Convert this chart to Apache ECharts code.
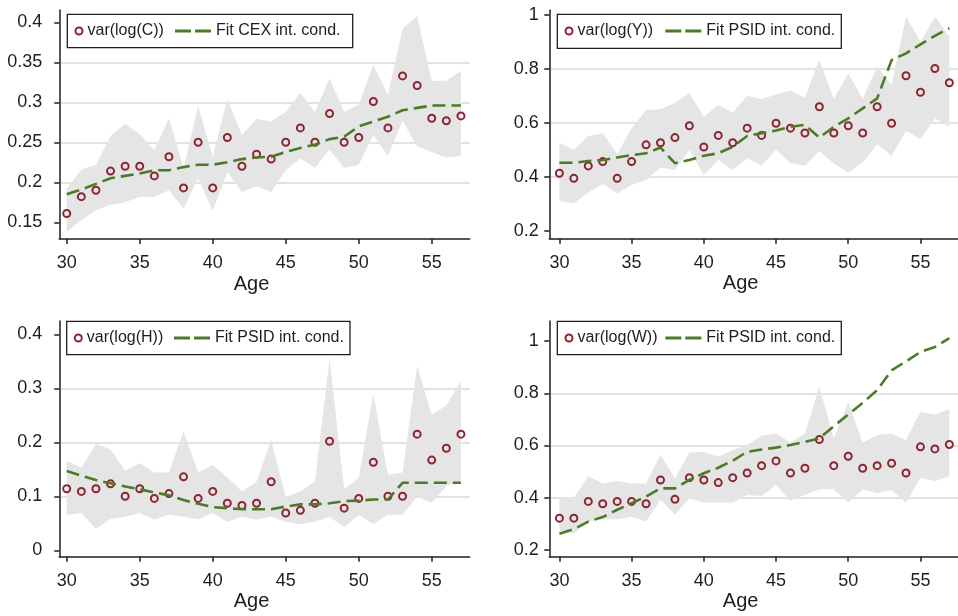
<!DOCTYPE html>
<html>
<head>
<meta charset="utf-8">
<script src="https://cdn.jsdelivr.net/npm/echarts@6/dist/echarts.min.js"></script>
<style>
html, body { margin:0; padding:0; background:#fff; }
#main { width:958px; height:616px; }
</style>
</head>
<body>
<div id="main"></div>
<script>
// 年龄 (横轴)
var ages = [30,31,32,33,34,35,36,37,38,39,40,41,42,43,44,45,46,47,48,49,50,51,52,53,54,55,56,57];
var xTicks = [30,35,40,45,50,55];

// 消费 C
var varC = [0.161,0.182,0.190,0.214,0.220,0.220,0.208,0.232,0.193,0.250,0.193,0.256,0.220,0.235,0.229,0.250,0.268,0.250,0.286,0.250,0.256,0.301,0.268,0.333,0.321,0.280,0.277,0.283];
var fitC = [0.185,0.191,0.198,0.205,0.208,0.211,0.215,0.215,0.219,0.222,0.222,0.225,0.229,0.231,0.232,0.238,0.243,0.247,0.254,0.257,0.270,0.276,0.282,0.290,0.293,0.296,0.296,0.296];
var loC = [0.138,0.153,0.165,0.172,0.175,0.182,0.182,0.190,0.167,0.205,0.164,0.213,0.188,0.195,0.188,0.215,0.230,0.218,0.241,0.218,0.222,0.259,0.233,0.277,0.245,0.238,0.231,0.233];
var hiC = [0.192,0.216,0.222,0.258,0.273,0.260,0.240,0.280,0.218,0.295,0.232,0.304,0.259,0.279,0.276,0.288,0.312,0.288,0.330,0.288,0.297,0.347,0.309,0.392,0.408,0.327,0.327,0.339];
var yTicksC = [0.15,0.2,0.25,0.3,0.35,0.4];

// 收入 Y
var varY = [0.414,0.395,0.441,0.457,0.395,0.457,0.519,0.527,0.546,0.590,0.511,0.554,0.527,0.581,0.554,0.599,0.581,0.563,0.660,0.563,0.590,0.563,0.660,0.599,0.775,0.714,0.802,0.749];
var fitY = [0.453,0.453,0.459,0.463,0.472,0.481,0.488,0.509,0.451,0.463,0.479,0.488,0.512,0.552,0.562,0.572,0.586,0.593,0.546,0.586,0.617,0.654,0.691,0.833,0.858,0.891,0.923,0.951];
var loY = [0.312,0.302,0.343,0.374,0.340,0.370,0.389,0.435,0.426,0.500,0.407,0.463,0.426,0.469,0.442,0.502,0.451,0.442,0.496,0.451,0.416,0.454,0.521,0.479,0.570,0.541,0.617,0.586];
var hiY = [0.527,0.500,0.552,0.562,0.485,0.580,0.648,0.651,0.675,0.710,0.623,0.667,0.638,0.701,0.689,0.706,0.720,0.694,0.833,0.689,0.784,0.689,0.809,0.741,0.994,0.901,0.994,0.920];
var yTicksY = [0.2,0.4,0.6,0.8,1];

// 工时 H
var varH = [0.114,0.109,0.114,0.123,0.100,0.114,0.096,0.105,0.136,0.096,0.109,0.087,0.083,0.087,0.127,0.069,0.074,0.087,0.202,0.078,0.096,0.163,0.100,0.100,0.215,0.167,0.189,0.215];
var fitH = [0.147,0.138,0.130,0.124,0.118,0.113,0.107,0.102,0.093,0.086,0.080,0.078,0.076,0.076,0.076,0.081,0.085,0.085,0.087,0.091,0.092,0.094,0.094,0.125,0.125,0.125,0.125,0.125];
var loH = [0.066,0.069,0.040,0.058,0.062,0.069,0.057,0.066,0.062,0.057,0.069,0.053,0.062,0.057,0.062,0.053,0.048,0.053,0.062,0.043,0.066,0.048,0.066,0.066,0.099,0.088,0.119,0.128];
var hiH = [0.166,0.153,0.197,0.187,0.147,0.161,0.144,0.144,0.220,0.144,0.158,0.135,0.109,0.127,0.204,0.099,0.109,0.127,0.355,0.113,0.135,0.290,0.140,0.144,0.342,0.251,0.268,0.314];
var yTicksH = [0,0.1,0.2,0.3,0.4];

// 工资 W
var varW = [0.322,0.322,0.386,0.377,0.386,0.386,0.377,0.468,0.394,0.477,0.468,0.458,0.477,0.495,0.523,0.541,0.495,0.513,0.623,0.523,0.559,0.513,0.523,0.532,0.495,0.595,0.587,0.604];
var fitW = [0.262,0.280,0.309,0.326,0.354,0.379,0.405,0.436,0.436,0.468,0.494,0.515,0.542,0.576,0.585,0.592,0.602,0.614,0.627,0.674,0.719,0.763,0.812,0.888,0.922,0.958,0.977,1.011];
var loW = [0.274,0.262,0.309,0.318,0.318,0.326,0.309,0.392,0.335,0.398,0.382,0.382,0.382,0.411,0.407,0.449,0.389,0.411,0.433,0.433,0.382,0.433,0.417,0.430,0.382,0.477,0.464,0.481];
var hiW = [0.401,0.401,0.483,0.455,0.464,0.455,0.455,0.566,0.474,0.574,0.574,0.557,0.583,0.602,0.637,0.646,0.612,0.646,0.824,0.627,0.767,0.611,0.640,0.646,0.621,0.729,0.719,0.739];
var yTicksW = [0.2,0.4,0.6,0.8,1];

var red = '#8e2431';
var green = '#4b7b29';
var bandColor = '#e5e5e5';
var ink = '#1e1e1e';

var panels = [
	{ pt:'var(log(C))', fit:'Fit CEX int. cond.', v:varC, f:fitC, lo:loC, hi:hiC, yt:yTicksC,
	  grid:{left:59.3, top:10, width:410.4, height:229}, xr:[29.49,57.6], yr:[0.1291,0.4154], lm:17,
	  lg:[74.5,175,21], box:[67.3,14.3,285.4,33.4] },
	{ pt:'var(log(Y))', fit:'Fit PSID int. cond.', v:varY, f:fitY, lo:loY, hi:hiY, yt:yTicksY,
	  grid:{left:549.3, top:10, width:412.6, height:228.7}, xr:[29.3,57.6], yr:[0.1715,1.0185], lm:10.5,
	  lg:[564.5,665.3,21], box:[557.3,14.3,284,34] },
	{ pt:'var(log(H))', fit:'Fit PSID int. cond.', v:varH, f:fitH, lo:loH, hi:hiH, yt:yTicksH,
	  grid:{left:59.3, top:321, width:410.4, height:235.7}, xr:[29.49,57.6], yr:[-0.0119,0.4246], lm:17,
	  lg:[73.8,174,328], box:[66.7,321.3,283.3,33.4] },
	{ pt:'var(log(W))', fit:'Fit PSID int. cond.', v:varW, f:fitW, lo:loW, hi:hiW, yt:yTicksW,
	  grid:{left:549.3, top:321, width:412.6, height:235.7}, xr:[29.3,57.6], yr:[0.1744,1.0766], lm:10.5,
	  lg:[564.5,665.3,328], box:[557.3,321.3,284,33.4] }
];

function pairs(xs, ys) {
	var out = [];
	for (var i = 0; i < xs.length; i++) out.push([xs[i], ys[i]]);
	return out;
}

// 阴影带: 上界从左到右, 下界从右到左, 围成一个多边形
function bandRenderer(lo, hi) {
	return function (params, api) {
		var pts = [];
		for (var k = 0; k < ages.length; k++) pts.push(api.coord([ages[k], hi[k]]));
		for (var k = ages.length - 1; k >= 0; k--) pts.push(api.coord([ages[k], lo[k]]));
		return { type: 'polygon', shape: { points: pts }, style: { fill: bandColor } };
	};
}

var axisLineStyle = { color: ink, width: 1.5 };
var grids = [], xAxes = [], yAxes = [], series = [], legends = [], boxes = [];

panels.forEach(function (p, i) {
	grids.push(p.grid);
	xAxes.push({
		gridIndex: i, type: 'value', min: p.xr[0], max: p.xr[1],
		axisLine: { show: true, onZero: false, lineStyle: axisLineStyle },
		axisTick: { show: true, customValues: xTicks, length: 5, lineStyle: axisLineStyle },
		axisLabel: { customValues: xTicks, fontSize: 18, color: ink, margin: 15 },
		splitLine: { show: false },
		name: 'Age', nameLocation: 'middle', nameGap: 35,
		nameTextStyle: { fontSize: 20, color: ink, padding: [0, 26, 0, 0] }
	});
	yAxes.push({
		gridIndex: i, type: 'value', min: p.yr[0], max: p.yr[1],
		axisLine: { show: true, onZero: false, lineStyle: axisLineStyle },
		axisTick: { show: true, customValues: p.yt, length: 5, lineStyle: axisLineStyle },
		axisLabel: { customValues: p.yt, fontSize: 18, color: ink, margin: p.lm },
		splitLine: { show: true, showMinLine: false, showMaxLine: false, lineStyle: { color: '#d9d9d9', width: 1.5 } }
	});
	series.push({
		type: 'custom', xAxisIndex: i, yAxisIndex: i, silent: true,
		renderItem: bandRenderer(p.lo, p.hi),
		data: [[ages[0], p.lo[0]]],
		encode: { x: 0, y: 1 }
	});
	series.push({
		name: p.fit, type: 'line', xAxisIndex: i, yAxisIndex: i, silent: true,
		symbol: 'none', lineStyle: { color: green, width: 2.6, type: [13, 6], cap: 'butt' },
		data: pairs(ages, p.f)
	});
	series.push({
		name: p.pt, type: 'scatter', xAxisIndex: i, yAxisIndex: i, silent: true,
		symbol: 'circle', symbolSize: 7,
		itemStyle: { color: 'rgba(0,0,0,0)', borderColor: red, borderWidth: 2, opacity: 1 },
		data: pairs(ages, p.v)
	});
	var ts = { fontSize: 16, color: ink, lineHeight: 20 };
	legends.push({
		left: p.lg[0], top: p.lg[2], padding: 0, itemWidth: 7, itemHeight: 7, z: 20,
		selectedMode: false, textStyle: ts,
		data: [{ name: p.pt, icon: 'circle', itemStyle: { color: '#fff', borderColor: red, borderWidth: 2, opacity: 1 } }]
	});
	legends.push({
		left: p.lg[1], top: p.lg[2], padding: 0, itemWidth: 36, itemHeight: 3, z: 20,
		selectedMode: false, textStyle: ts,
		data: [{ name: p.fit, icon: 'path://M0,0H16V3H0Z M20,0H36V3H20Z', itemStyle: { color: green, borderWidth: 0 } }]
	});
	boxes.push({
		type: 'rect', z: 10,
		shape: { x: p.box[0], y: p.box[1], width: p.box[2], height: p.box[3] },
		style: { fill: '#fff', stroke: ink, lineWidth: 1.3 }
	});
});

option = {
	backgroundColor: '#fff',
	animation: false,
	textStyle: { fontFamily: 'Liberation Sans, Arial, sans-serif' },
	grid: grids,
	xAxis: xAxes,
	yAxis: yAxes,
	legend: legends,
	graphic: boxes,
	series: series
};

var myChart = echarts.init(document.getElementById('main'));
myChart.setOption(option);
</script>
</body>
</html>
